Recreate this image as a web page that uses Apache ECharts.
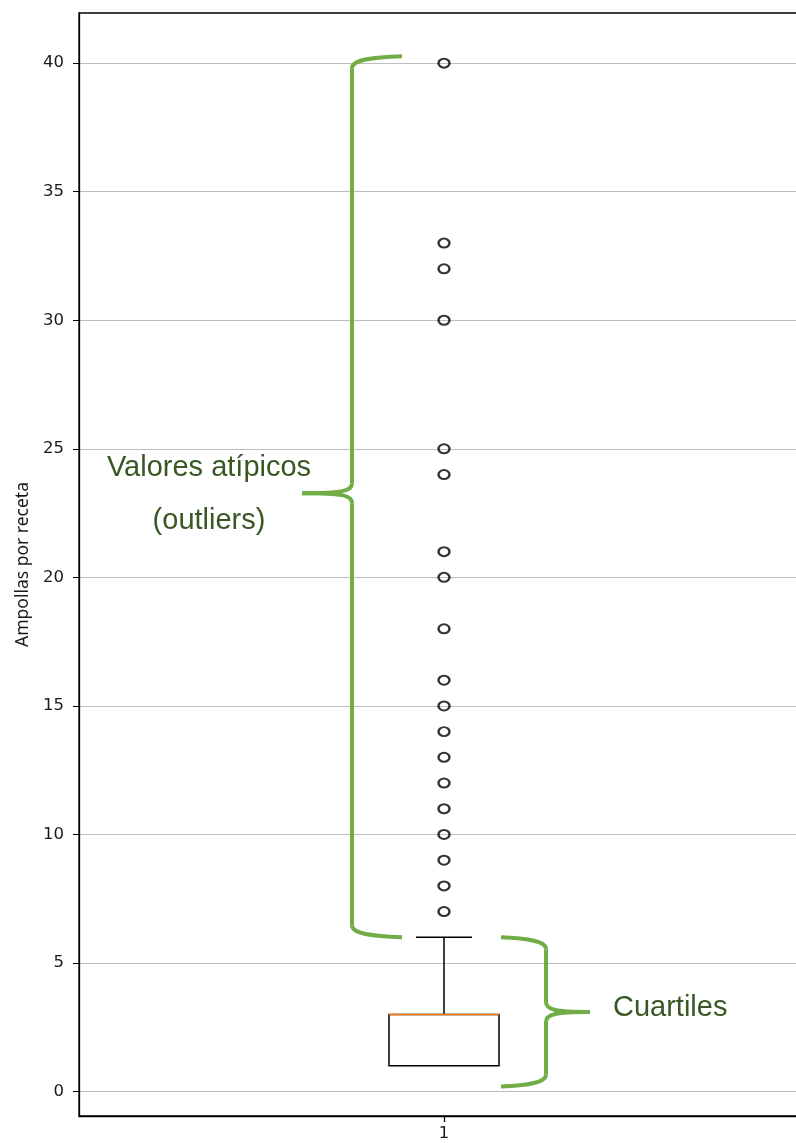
<!DOCTYPE html>
<html>
<head>
<meta charset="utf-8">
<script src="https://cdn.jsdelivr.net/npm/echarts@6/dist/echarts.min.js"></script>
<style>
html, body { margin: 0; padding: 0; background: #fff; }
#main { width: 796px; height: 1143px; }
</style>
</head>
<body>
<div id="main"></div>
<script>
// datos del boxplot
const categories = ['1'];
// [whisker bajo, Q1, mediana, Q3, whisker alto]
const boxStats = [1, 1, 3, 3, 6];
const outliers = [7, 8, 9, 10, 11, 12, 13, 14, 15, 16, 18, 20, 21, 24, 25, 30, 32, 33, 40];
const yTicks = [0, 5, 10, 15, 20, 25, 30, 35, 40];

const black = '#000';
const braceColor = '#70ad47';
const noteColor = '#385723';

let myChart = echarts.init(document.getElementById('main'));
myChart.setOption({
    animation: false,
    grid: {
        left: 79,
        top: 13,
        width: 730,
        height: 1103,
        outerBoundsMode: 'none',
        containLabel: false,
        show: true,
        borderColor: black,
        borderWidth: 1.3
    },
    xAxis: {
        type: 'category',
        data: categories,
        axisLine: { onZero: false, lineStyle: { color: black, width: 1.3 } },
        axisTick: { show: true, alignWithLabel: true, length: 6, lineStyle: { color: black, width: 1.3 } },
        axisLabel: { color: '#1a1a1a', fontFamily: 'DejaVu Sans', fontSize: 16.5, margin: 9 },
        splitLine: { show: false }
    },
    yAxis: {
        type: 'value',
        min: -0.95,
        max: 41.95,
        splitNumber: 8,
        name: 'Ampollas por receta',
        nameLocation: 'middle',
        nameGap: 47,
        nameTextStyle: { color: '#1a1a1a', fontFamily: 'Noto Sans', fontSize: 17.5 },
        axisLine: { show: true, lineStyle: { color: black, width: 1.3 } },
        axisTick: { show: true, length: 6, customValues: yTicks, lineStyle: { color: black } },
        axisLabel: { customValues: yTicks, color: '#1a1a1a', fontFamily: 'DejaVu Sans', fontSize: 16.5, margin: 15 },
        splitLine: { show: true, lineStyle: { color: '#bdbdbd', width: 1 } }
    },
    series: [{
        type: 'custom',
        data: [[0].concat(boxStats)],
        encode: { x: 0, y: [1, 2, 3, 4, 5] },
        z: 3,
        renderItem: function (params, api) {
            const lo = api.coord([api.value(0), api.value(1)]);
            const q1 = api.coord([api.value(0), api.value(2)]);
            const med = api.coord([api.value(0), api.value(3)]);
            const q3 = api.coord([api.value(0), api.value(4)]);
            const hi = api.coord([api.value(0), api.value(5)]);
            const cx = q1[0];
            const bw = 110, cw = 56;
            const st = { stroke: black, lineWidth: 1.5, fill: null };
            return {
                type: 'group',
                children: [
                    { type: 'line', shape: { x1: cx, y1: q3[1], x2: cx, y2: hi[1] }, style: st },
                    { type: 'line', shape: { x1: cx - cw / 2, y1: hi[1], x2: cx + cw / 2, y2: hi[1] }, style: st },
                    { type: 'line', shape: { x1: cx, y1: q1[1], x2: cx, y2: lo[1] }, style: st },
                    { type: 'rect', shape: { x: cx - bw / 2, y: q3[1], width: bw, height: q1[1] - q3[1] }, style: st },
                    { type: 'line', shape: { x1: cx - bw / 2, y1: med[1], x2: cx + bw / 2, y2: med[1] },
                      style: { stroke: '#ff7f0e', lineWidth: 1.5 } }
                ]
            };
        }
    }, {
        type: 'scatter',
        data: outliers.map(v => [0, v]),
        symbol: 'circle',
        symbolSize: [11, 9],
        z: 4,
        itemStyle: { color: 'rgba(0,0,0,0)', borderColor: black, borderWidth: 2.2 }
    }]
});

// llaves y textos de anotación
const yPx = v => myChart.convertToPixel({ yAxisIndex: 0 }, v);
const braceStyle = { stroke: braceColor, lineWidth: 4, fill: null };

function curve(x1, y1, c1x, c1y, c2x, c2y, x2, y2) {
    return { type: 'bezierCurve', z: 100,
        shape: { x1: x1, y1: y1, cpx1: c1x, cpy1: c1y, cpx2: c2x, cpy2: c2y, x2: x2, y2: y2 },
        style: braceStyle };
}
function seg(x1, y1, x2, y2) {
    return { type: 'line', z: 100, shape: { x1: x1, y1: y1, x2: x2, y2: y2 }, style: braceStyle };
}

function brace(xv, xEnd, xTip, top, bot, mid) {
    const d = xEnd > xv ? 1 : -1;
    return [
        curve(xEnd, top, xv + d * 22, top + 1, xv, top + 3, xv, top + 12),
        seg(xv, top + 12, xv, mid - 10),
        curve(xv, mid - 10, xv, mid - 2, xv - d * 10, mid, xTip, mid),
        curve(xTip, mid, xv - d * 10, mid, xv, mid + 2, xv, mid + 10),
        seg(xv, mid + 10, xv, bot - 12),
        curve(xv, bot - 12, xv, bot - 3, xv + d * 22, bot - 1, xEnd, bot)
    ];
}

const topOut = yPx(outliers[outliers.length - 1]) - 7;
const whiskTop = yPx(boxStats[4]);
const bottomBox = yPx(0) - 5;

function label(text, x, y, align) {
    return {
        type: 'text', z: 100,
        style: {
            text: text, x: x, y: y,
            font: '29px "Liberation Sans", Arial, sans-serif',
            fill: noteColor,
            textAlign: align, textVerticalAlign: 'middle'
        }
    };
}

myChart.setOption({
    graphic: [].concat(
        brace(352, 402, 302, topOut, whiskTop, topOut + 437),
        brace(546, 501, 590, whiskTop, bottomBox, (whiskTop + bottomBox) / 2),
        [
            label('Valores atípicos', 209, 468, 'center'),
            label('(outliers)', 209, 521, 'center'),
            label('Cuartiles', 613, 1008, 'left')
        ]
    )
});
</script>
</body>
</html>
